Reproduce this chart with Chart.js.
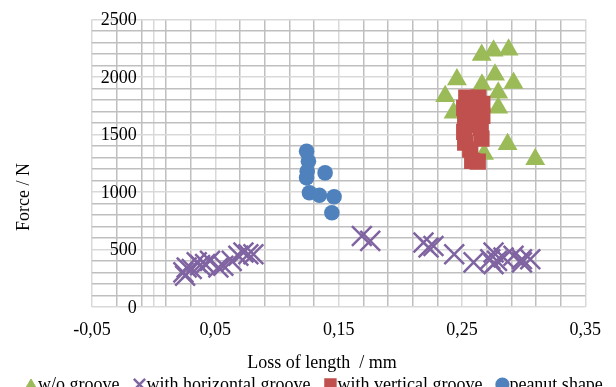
<!DOCTYPE html>
<html>
<head>
<meta charset="utf-8">
<script src="https://cdn.jsdelivr.net/npm/chart.js@4.4.0/dist/chart.umd.min.js"></script>
<style>
html,body{margin:0;padding:0;background:#fff;overflow:hidden}
#wrap{width:616px;height:387px}
</style>
</head>
<body>
<div id="wrap"><canvas id="chart" width="616" height="387"></canvas></div>
<script>
const FONT = "'Liberation Serif','Times New Roman',serif";
const COLORS = { wo:'#9BBB59', hor:'#8064A2', ver:'#C0504D', pea:'#4F81BD' };
const GRID_MAJOR = '#d9d9d9', GRID_MINOR = '#bfbfbf';

// axis ticks (labelled) and minor grid spacing
const xLabels = [-0.05, 0.05, 0.15, 0.25, 0.35];
const yLabels = [0, 500, 1000, 1500, 2000, 2500];
const xMinorStep = 0.02, yMinorStep = 100;

// w/o groove
const woX = [0.266, 0.2756, 0.2878, 0.2459, 0.2768, 0.2662, 0.2918, 0.2364, 0.2794, 0.2794, 0.2432, 0.287, 0.3094, 0.2679];
const woF = [2189, 2227, 2235, 1976, 2019, 1932, 1946, 1831, 1861, 1732, 1688, 1413, 1283, 1330];

// with horizontal groove
const horX = [0.1688, 0.1756, 0.2188, 0.2229, 0.2269, 0.2437, 0.2594, 0.2756, 0.2729, 0.2784, 0.2756, 0.2837, 0.2918, 0.2986, 0.3054, 0.2986,
              0.0241, 0.0268, 0.0309, 0.0349, 0.0417, 0.0457, 0.0525, 0.0565, 0.0633, 0.0687, 0.0728, 0.0768, 0.0809, 0.0255, 0.0376];
const horF = [617, 574, 560, 516, 530, 458, 387, 473, 415, 400, 372, 430, 444, 415, 415, 387,
              300, 343, 329, 387, 372, 400, 343, 357, 400, 444, 473, 458, 458, 271, 363];

// with vertical groove
const verX = [0.2535, 0.2632, 0.2665, 0.2518, 0.2665, 0.2526, 0.2616, 0.2518, 0.2652, 0.2658, 0.2526, 0.2567, 0.2583, 0.2628, 0.2608];
const verF = [1820, 1820, 1765, 1730, 1661, 1626, 1696, 1522, 1557, 1462, 1427, 1367, 1270, 1262, 1583];

// peanut shape
const peaX = [0.124, 0.1255, 0.1245, 0.124, 0.139, 0.1263, 0.1344, 0.1463, 0.1445];
const peaF = [1352, 1266, 1180, 1122, 1165, 992, 970, 958, 819];

const pts = (xs, ys) => xs.map((x, i) => ({ x, y: ys[i] }));
const round = v => Math.round(v * 1000) / 1000;
const onStep = (v, base, step) => Math.abs((v - base) / step - Math.round((v - base) / step)) < 1e-6;

// minor grid positions, plus the line at x = 0 where the value axis crosses
const xGrid = [];
for (let v = xLabels[0]; v <= xLabels[xLabels.length - 1] + 1e-9; v += xMinorStep) xGrid.push(round(v));
xGrid.push(0); xGrid.sort((a, b) => a - b);

const isMajorX = v => v === 0 || onStep(v, xLabels[0], xLabels[1] - xLabels[0]);
const isMajorY = v => onStep(v, 0, yLabels[1] - yLabels[0]);
const fmtX = v => v.toFixed(2).replace('.', ',');

const LEGEND_R = { triangle:5.5, crossRot:8, rect:7, circle:5.8 };

const decor = {
  id:'decor',
  beforeDatasetsDraw(chart){
    const { ctx, scales:{ x, y } } = chart;
    const x0 = x.getPixelForValue(0);
    ctx.save();
    ctx.font = `18px ${FONT}`; ctx.fillStyle = '#000';
    ctx.textAlign = 'right'; ctx.textBaseline = 'alphabetic';
    yLabels.forEach(v => ctx.fillText(String(v), x0 - 17, y.getPixelForValue(v) + 6));
    ctx.restore();
  },
  afterDraw(chart){
    const ctx = chart.ctx;
    ctx.save();
    ctx.font = `18px ${FONT}`; ctx.fillStyle = '#000'; ctx.textBaseline = 'alphabetic';
    ctx.textAlign = 'center';
    ctx.fillText('Loss of length  / mm', 322, 368);
    ctx.save();
    ctx.translate(29, 197); ctx.rotate(-Math.PI / 2);
    ctx.fillText('Force / N', 0, 0);
    ctx.restore();

    // legend along the bottom edge
    ctx.textAlign = 'left';
    let mx = 31;
    chart.data.datasets.forEach(ds => {
      const style = ds.pointStyle;
      ctx.fillStyle = ds.backgroundColor; ctx.strokeStyle = ds.borderColor;
      ctx.lineWidth = style === 'crossRot' ? 2.5 : 0;
      Chart.helpers.drawPoint(ctx, { pointStyle:style, radius:LEGEND_R[style], rotation:0, borderWidth:ctx.lineWidth }, mx, 384.5);
      ctx.fillStyle = '#000';
      const tx = mx + 7;
      ctx.fillText(ds.label, tx, 390);
      mx = tx + ctx.measureText(ds.label).width + 20;
    });
    ctx.restore();
  }
};

new Chart(document.getElementById('chart'), {
  type:'scatter',
  data:{ datasets:[
    { label:'w/o groove', data:pts(woX, woF), pointStyle:'triangle', pointRadius:11.5,
      backgroundColor:COLORS.wo, borderColor:COLORS.wo, borderWidth:0, order:4 },
    { label:'with horizontal groove', data:pts(horX, horF), pointStyle:'crossRot', pointRadius:14,
      backgroundColor:COLORS.hor, borderColor:COLORS.hor, borderWidth:2.5, order:3 },
    { label:'with vertical groove', data:pts(verX, verF), pointStyle:'rect', pointRadius:11.5,
      backgroundColor:COLORS.ver, borderColor:COLORS.ver, borderWidth:0, order:2 },
    { label:'peanut shape', data:pts(peaX, peaF), pointStyle:'circle', pointRadius:7.8,
      backgroundColor:COLORS.pea, borderColor:COLORS.pea, borderWidth:0, order:1 }
  ]},
  options:{
    responsive:false, animation:false, events:[],
    layout:{ padding:{ left:92, right:30.7, top:19.3, bottom:32.5 } },
    plugins:{ legend:{ display:false }, tooltip:{ enabled:false } },
    scales:{
      x:{
        type:'linear', min:xLabels[0], max:xLabels[xLabels.length - 1],
        afterBuildTicks: s => { s.ticks = xGrid.map(v => ({ value:v })); },
        ticks:{ autoSkip:false, maxRotation:0, padding:13, color:'#000', font:{ family:FONT, size:18 },
          callback: v => (v !== 0 && isMajorX(v)) ? fmtX(v) : '' },
        grid:{ drawTicks:false, lineWidth:1.5, color: c => isMajorX(c.tick.value) ? GRID_MAJOR : GRID_MINOR },
        border:{ display:false }
      },
      y:{
        type:'linear', min:yLabels[0], max:yLabels[yLabels.length - 1],
        ticks:{ display:false, stepSize:yMinorStep },
        grid:{ drawTicks:false, lineWidth:1.5, color: c => isMajorY(c.tick.value) ? GRID_MAJOR : GRID_MINOR },
        border:{ display:false }
      }
    }
  },
  plugins:[decor]
});
</script>
</body>
</html>
